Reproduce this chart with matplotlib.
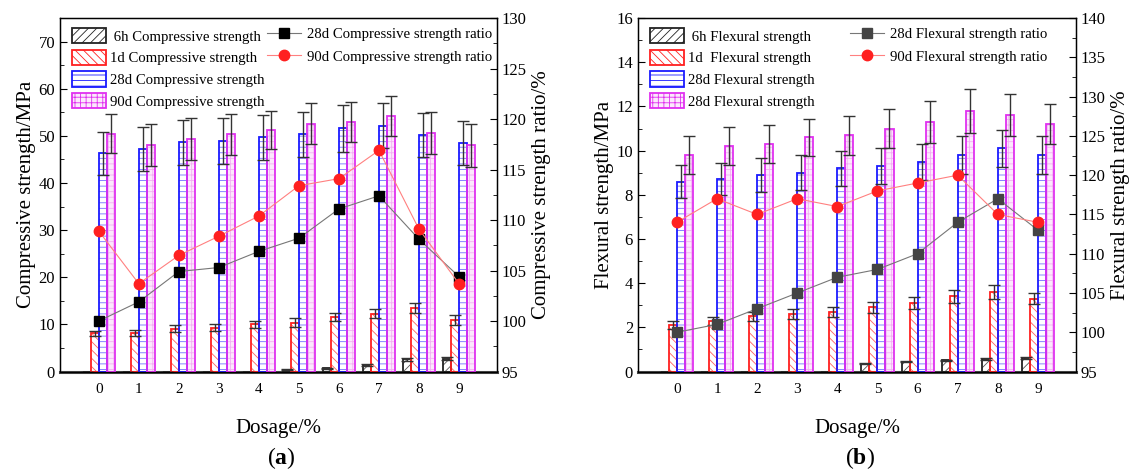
import numpy as np
import matplotlib
matplotlib.use("Agg")
import matplotlib.pyplot as plt
import matplotlib.patches as mpatches
from matplotlib.lines import Line2D
from matplotlib.ticker import MultipleLocator

plt.rcParams['font.family'] = ['Liberation Serif', 'DejaVu Serif']
plt.rcParams['mathtext.fontset'] = 'custom'
plt.rcParams['mathtext.rm'] = 'Liberation Serif'
plt.rcParams['mathtext.bf'] = 'Liberation Serif:bold'
plt.rcParams['hatch.linewidth'] = 0.6

dosage = [0, 1, 2, 3, 4, 5, 6, 7, 8, 9]

# (a) compressive strength, MPa
comp_6h = [0, 0, 0, 0, 0, 0.4, 0.7, 1.3, 2.6, 2.7]
comp_6h_err = [0, 0, 0, 0, 0, 0.1, 0.1, 0.2, 0.3, 0.3]
comp_1d = [8.1, 8.2, 9.1, 9.3, 10.0, 10.4, 11.6, 12.3, 13.5, 10.9]
comp_1d_err = [0.6, 0.7, 0.7, 0.8, 0.8, 0.9, 0.9, 1.0, 1.0, 1.1]
comp_28d = [46.3, 47.2, 48.6, 48.9, 49.7, 50.3, 51.6, 52.2, 50.2, 48.5]
comp_28d_err = [4.6, 4.7, 4.8, 4.8, 4.8, 4.8, 5.0, 4.8, 4.7, 4.6]
comp_90d = [50.5, 48.1, 49.4, 50.3, 51.3, 52.6, 52.9, 54.2, 50.6, 48.0]
comp_90d_err = [4.2, 4.4, 4.5, 4.4, 4.0, 4.4, 4.3, 4.3, 4.4, 4.6]
comp_ratio_28d = [100.0, 101.9, 104.9, 105.3, 106.9, 108.2, 111.1, 112.4, 108.1, 104.4]
comp_ratio_90d = [108.9, 103.7, 106.5, 108.4, 110.4, 113.4, 114.1, 116.9, 109.1, 103.7]

# (b) flexural strength, MPa
flex_6h = [0, 0, 0, 0, 0, 0.36, 0.45, 0.5, 0.57, 0.6]
flex_6h_err = [0, 0, 0, 0, 0, 0.03, 0.04, 0.04, 0.05, 0.05]
flex_1d = [2.1, 2.3, 2.5, 2.6, 2.7, 2.9, 3.1, 3.4, 3.6, 3.3]
flex_1d_err = [0.18, 0.18, 0.2, 0.22, 0.22, 0.24, 0.26, 0.28, 0.3, 0.26]
flex_28d = [8.6, 8.7, 8.9, 9.0, 9.2, 9.3, 9.5, 9.8, 10.1, 9.8]
flex_28d_err = [0.75, 0.72, 0.78, 0.8, 0.8, 0.8, 0.82, 0.85, 0.82, 0.85]
flex_90d = [9.8, 10.2, 10.3, 10.6, 10.7, 11.0, 11.3, 11.8, 11.6, 11.2]
flex_90d_err = [0.85, 0.85, 0.85, 0.85, 0.88, 0.9, 0.95, 1.0, 0.95, 0.9]
flex_ratio_28d = [100, 101, 103, 105, 107, 108, 110, 114, 117, 113]
flex_ratio_90d = [114, 117, 115, 117, 116, 118, 119, 120, 115, 114]

BLUE = '#1a1aff'
RED = '#ff2020'
MAG = '#e030f0'
W = 0.2
x = np.array(dosage)


def draw_bars(ax, vals, errs, offset, edge, hatch_col, face, hatch):
    pos = x + offset
    ax.bar(pos, vals, W, color=face, edgecolor=hatch_col, hatch=hatch, linewidth=0, zorder=2)
    ax.bar(pos, vals, W, fill=False, edgecolor=edge, linewidth=1.3, zorder=3)
    ax.errorbar(pos, vals, yerr=errs, fmt='none', ecolor='#333333', elinewidth=1.0,
                capsize=4, capthick=1.0, zorder=4)


def panel(ax, bars, ratios, ylim, ymaj, rlim, ylab, rlab, bar_labels, line_labels, sq_col, line_x):
    specs = [
        (-0.3, '#222222', '#555555', 'white', '////'),
        (-0.1, RED, '#ff6060', 'white', '\\\\\\\\'),
        (0.1, BLUE, '#7070ff', 'white', '---'),
        (0.3, MAG, '#f2b0f2', '#fce8fc', '+++'),
    ]
    handles = []
    for (vals, errs), (off, edge, hc, face, hatch), lab in zip(bars, specs, bar_labels):
        draw_bars(ax, vals, errs, off, edge, hc, face, hatch)
        handles.append(mpatches.Patch(facecolor=face, edgecolor=edge, hatch=hatch, linewidth=1.3, label=lab))
    ax.set_xlim(-0.97, 9.95)
    ax.set_ylim(*ylim)
    ax.set_xticks(dosage)
    ax.yaxis.set_major_locator(MultipleLocator(ymaj))
    ax.yaxis.set_minor_locator(MultipleLocator(ymaj / 2))
    ax.tick_params(axis='y', which='both', direction='in', labelsize=12)
    ax.tick_params(axis='y', which='major', length=5)
    ax.tick_params(axis='y', which='minor', length=3)
    ax.tick_params(axis='x', length=0, labelsize=11, pad=8)
    ax.set_ylabel(ylab, fontsize=15, labelpad=2)
    ax.set_xlabel('Dosage/%', fontsize=15)
    ax.xaxis.set_label_coords(0.5, -0.135)
    for s in ['left', 'right', 'top']:
        ax.spines[s].set_linewidth(1.0)
    ax.spines['bottom'].set_linewidth(2.2)
    ax.spines['bottom'].set_color('#444444')
    leg1 = ax.legend(handles=handles, loc='upper left', bbox_to_anchor=(0.0, 1.005), frameon=False,
                     fontsize=10.6, handlelength=2.3, handleheight=1.2, labelspacing=0.42,
                     handletextpad=0.3, borderaxespad=0.4)
    ax.add_artist(leg1)

    ax2 = ax.twinx()
    ax2.plot(x, ratios[0], '-', color='#777777', lw=0.8, marker='s', ms=7, mfc=sq_col, mec=sq_col, zorder=5)
    ax2.plot(x, ratios[1], '-', color='#ff8080', lw=0.8, marker='o', ms=7.5, mfc=RED, mec=RED, zorder=5)
    ax2.set_ylim(*rlim)
    ax2.yaxis.set_major_locator(MultipleLocator(5))
    ax2.yaxis.set_minor_locator(MultipleLocator(2.5))
    ax2.tick_params(axis='y', which='both', direction='in', labelsize=12)
    ax2.tick_params(axis='y', which='major', length=5)
    ax2.tick_params(axis='y', which='minor', length=3)
    ax2.set_ylabel(rlab, fontsize=15, labelpad=4)
    lh = [Line2D([], [], color='#777777', lw=0.8, marker='s', ms=7, mfc=sq_col, mec=sq_col),
          Line2D([], [], color='#ff8080', lw=0.8, marker='o', ms=7.5, mfc=RED, mec=RED)]
    ax.legend(lh, line_labels, loc='upper left', bbox_to_anchor=(line_x, 1.005), frameon=False,
              fontsize=10.6, handlelength=2.3, labelspacing=0.6, handletextpad=0.4, borderaxespad=0.4)
    return ax2


fig = plt.figure(figsize=(11.36, 4.76), dpi=100)
axa = fig.add_axes([0.0528, 0.2195, 0.3847, 0.7425])
axb = fig.add_axes([0.5616, 0.2195, 0.3856, 0.7425])

panel(axa,
      [(comp_6h, comp_6h_err), (comp_1d, comp_1d_err), (comp_28d, comp_28d_err), (comp_90d, comp_90d_err)],
      [comp_ratio_28d, comp_ratio_90d], (0, 75), 10, (95, 130),
      'Compressive strength/MPa', 'Compressive strength ratio/%',
      [' 6h Compressive strength', '1d Compressive strength', '28d Compressive strength', '90d Compressive strength'],
      ['28d Compressive strength ratio', '90d Compressive strength ratio'], 'black', 0.447)

panel(axb,
      [(flex_6h, flex_6h_err), (flex_1d, flex_1d_err), (flex_28d, flex_28d_err), (flex_90d, flex_90d_err)],
      [flex_ratio_28d, flex_ratio_90d], (0, 16), 2, (95, 140),
      'Flexural strength/MPa', 'Flexural strength ratio/%',
      [' 6h Flexural strength', '1d  Flexural strength', '28d Flexural strength', '28d Flexural strength'],
      ['28d Flexural strength ratio', '90d Flexural strength ratio'], '#444444', 0.457)

fig.text(0.248, 0.038, r'($\mathbf{a}$)', ha='center', va='center', fontsize=17)
fig.text(0.757, 0.038, r'($\mathbf{b}$)', ha='center', va='center', fontsize=17)

fig.savefig('out.png', dpi=100)
